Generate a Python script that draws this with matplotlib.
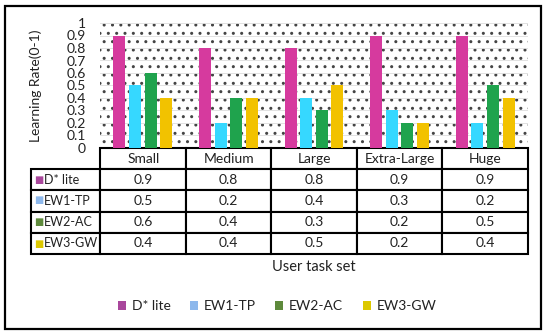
import numpy as np
import matplotlib
matplotlib.use("Agg")
import matplotlib.pyplot as plt
from matplotlib.patches import Rectangle, Patch
from matplotlib.table import Table

plt.rcParams['font.family'] = ['Lato', 'DejaVu Sans']
plt.rcParams['hatch.linewidth'] = 1.0

#-----Data-----#
task_sets = ['Small', 'Medium', 'Large', 'Extra-Large', 'Huge']
methods = ['D* lite', 'EW1-TP', 'EW2-AC', 'EW3-GW']
d_lite = [0.9, 0.8, 0.8, 0.9, 0.9]
ew1_tp = [0.5, 0.2, 0.4, 0.3, 0.2]
ew2_ac = [0.6, 0.4, 0.3, 0.2, 0.5]
ew3_gw = [0.4, 0.4, 0.5, 0.2, 0.4]
series = [d_lite, ew1_tp, ew2_ac, ew3_gw]

bar_colors = ['#D63A9E', '#36D8FF', '#1FA34D', '#F2C200']
key_colors = ['#A9479C', '#8DB8EC', '#5E8A3C', '#DCC800']

#-----Figure-----#
W, H = 550, 334
fig = plt.figure(figsize=(W / 100, H / 100), dpi=100)
ax = fig.add_axes([100 / W, 1 - 148 / H, 428 / W, 125 / H])

# dotted background
ax.add_patch(Rectangle((0, 0), 1, 1, transform=ax.transAxes, fill=False,
                       hatch='..', edgecolor='#444444', lw=0, zorder=0))

x = np.arange(len(task_sets))
step, width = 0.182, 0.141
for i, vals in enumerate(series):
    ax.bar(x + (i - 1.5) * step, vals, width, color=bar_colors[i], zorder=3)

ax.set_xlim(-0.5, len(task_sets) - 0.5)
ax.set_ylim(0, 1)
ax.set_yticks(np.arange(0, 1.01, 0.1))
ax.set_yticklabels(['0'] + ['%.1f' % v for v in np.arange(0.1, 0.95, 0.1)] + ['1'],
                   fontsize=10, color='#222222')
ax.set_xticks([])
ax.tick_params(axis='y', length=0, pad=10)
ax.yaxis.grid(True, color='#dddddd', lw=0.6, zorder=1)
for s in ax.spines.values():
    s.set_visible(False)

#-----Data table-----#
tbl = Table(ax, bbox=[-69 / 428, -106 / 125, 497 / 428, 106 / 125])
lab_w, col_w, row_h = 69, 85, 21
for j, name in enumerate(task_sets):
    tbl.add_cell(0, j + 1, col_w, row_h, text=name, loc='center')
for i, vals in enumerate(series):
    tbl.add_cell(i + 1, 0, lab_w, row_h, text=methods[i], loc='left')
    for j, v in enumerate(vals):
        tbl.add_cell(i + 1, j + 1, col_w, row_h, text='%.1f' % v, loc='center')
tbl.auto_set_font_size(False)
tbl.set_fontsize(10)
for (r, c), cell in tbl.get_celld().items():
    cell.set_edgecolor('black')
    cell.set_linewidth(1.5)
    cell.get_text().set_color('#222222')
    if c == 0:
        cell.PAD = 0.19
        cell.get_text().set_fontsize(9)
ax.add_table(tbl)

row_mid = [179.5, 200.5, 221.5, 243.5]
for i, c in enumerate(key_colors):
    fig.text(39 / W, 1 - row_mid[i] / H, '\u25A0', color=c, fontsize=7,
             ha='center', va='center', family='DejaVu Sans')

#-----Labels-----#
fig.text(36 / W, 1 - 86 / H, 'Learning Rate(0-1)', rotation=90,
         ha='center', va='center', fontsize=10, color='#222222')
fig.text(314 / W, 1 - 267 / H, 'User task set', ha='center', va='center',
         fontsize=10.5, color='#222222')

handles = [Patch(facecolor=c, edgecolor='none') for c in key_colors]
fig.legend(handles, methods, ncol=4, loc='center', frameon=False,
           bbox_to_anchor=(277 / W, 1 - 306 / H), fontsize=10,
           handlelength=0.6, handleheight=0.6, handletextpad=0.4,
           columnspacing=1.4, labelcolor='#222222')

# outer frame
fig.patches.append(Rectangle((5 / W, 1 - 329 / H), 536 / W, 323 / H,
                             transform=fig.transFigure, fill=False,
                             edgecolor='black', lw=1.6))

fig.savefig('out.png', dpi=100)
